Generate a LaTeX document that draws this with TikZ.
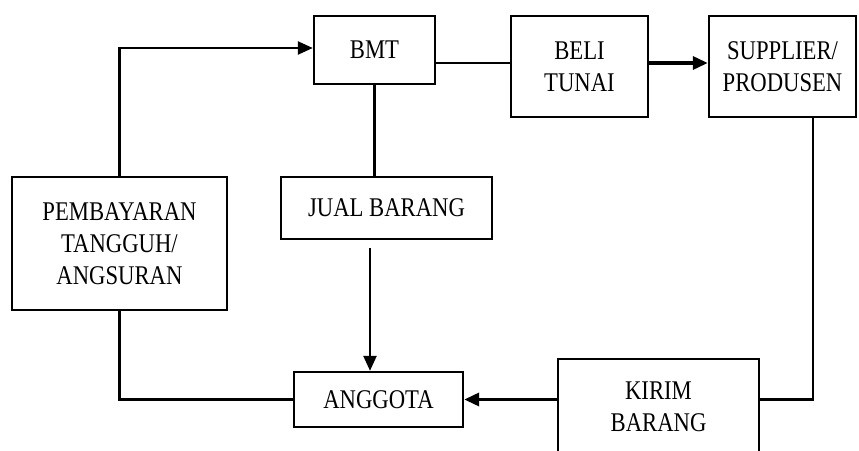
\documentclass[tikz,border=0pt]{standalone}
\usepackage{fontspec}
\newfontfamily\diafont[FakeStretch=0.84]{Liberation Serif}
\usetikzlibrary{arrows.meta}
\begin{document}
\begin{tikzpicture}[x=1pt,y=-1pt,
  box/.style={draw,line width=2.4pt,rectangle,inner sep=0pt,align=center,
    font=\diafont\fontsize{27}{32}\selectfont},
  ln/.style={line width=2.4pt},
  arr/.style={line width=2.4pt,-{Triangle[length=15pt,width=13pt]}},
  thickarr/.style={line width=3.4pt,-{Triangle[length=15pt,width=13pt]}}]
\useasboundingbox (0,0) rectangle (859,450);
\clip (0,0) rectangle (859,450);
\fill[white] (0,0) rectangle (859,450);
\node[box,minimum width=121pt,minimum height=68pt] (bmt) at (374.5,50) {BMT};
\node[box,minimum width=137pt,minimum height=101pt] (beli) at (579.5,66.5) {BELI\\TUNAI};
\node[box,minimum width=147pt,minimum height=101pt] (sup) at (782.5,66.5) {SUPPLIER/\\PRODUSEN};
\node[box,minimum width=211pt,minimum height=62pt] (jual) at (386.5,208) {JUAL BARANG};
\node[box,minimum width=215pt,minimum height=133pt] (pemb) at (119.5,243.5) {PEMBAYARAN\\TANGGUH/\\ANGSURAN};
\node[box,minimum width=169pt,minimum height=55pt] (ang) at (378.5,399.5) {ANGGOTA};
\node[box,minimum width=201pt,minimum height=96pt] (kirim) at (658.5,407) {KIRIM\\BARANG};
\coordinate (l1) at (0,63);
\coordinate (ly) at (0,399.5);
\coordinate (ax) at (370,0);
\coordinate (sx) at (813,0);
\draw[arr] (pemb.north) |- ([yshift=2pt]bmt.west);
\draw[ln] (bmt.east |- l1) -- (beli.west |- l1);
\draw[thickarr] (beli.east |- l1) -- (sup.west |- l1);
\draw[ln] (bmt.south) -- (bmt.south |- jual.north);
\draw[arr] ([yshift=-8pt]jual.south -| ax) -- (ang.north -| ax);
\draw[ln] (sup.south -| sx) |- (kirim.east |- ly);
\draw[thickarr] (kirim.west |- ly) -- (ang.east |- ly);
\draw[ln] (pemb.south) |- (ang.west);
\end{tikzpicture}
\end{document}
